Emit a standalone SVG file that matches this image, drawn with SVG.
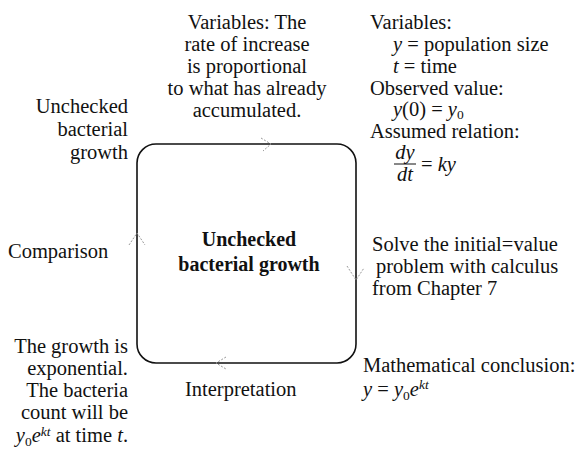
<svg xmlns="http://www.w3.org/2000/svg" width="588" height="451" viewBox="0 0 588 451">
<style>
text{font-family:"Liberation Serif","Times New Roman",serif;font-size:20.5px;fill:#111}
.b{font-weight:bold;font-size:20px}
.i{font-style:italic}
.m{text-anchor:middle}
.e{text-anchor:end}
.sub{font-size:13.5px}
.arr{fill:none;stroke:#999;stroke-width:1;stroke-dasharray:2 1.5}
</style>
<rect width="588" height="451" fill="#fff"/>
<g id="connectors">
<rect x="137" y="144" width="219" height="219" rx="19" fill="none" stroke="#111" stroke-width="1.6"/>
<path class="arr" d="M261 138 L271 144 L263 151"/>
<path class="arr" d="M347 266 L356 280 L364 268"/>
<path class="arr" d="M226 357 L216 363 L226 369"/>
<path class="arr" d="M129 245 L137 233 L145 245"/>
</g>
<g id="center">
<text class="b m" x="249" y="246">Unchecked</text>
<text class="b m" x="249" y="271">bacterial growth</text>
</g>
<g id="top-label">
<text class="m" x="247" y="29">Variables: The</text>
<text class="m" x="247" y="51">rate of increase</text>
<text class="m" x="247" y="73">is proportional</text>
<text class="m" x="247" y="95">to what has already</text>
<text class="m" x="247" y="117">accumulated.</text>
</g>
<g id="left-label">
<text class="e" x="128" y="113">Unchecked</text>
<text class="e" x="128" y="136">bacterial</text>
<text class="e" x="128" y="159">growth</text>
</g>
<g id="comparison">
<text x="8" y="258">Comparison</text>
</g>
<g id="right-top">
<text x="370" y="29">Variables:</text>
<text x="393" y="51"><tspan class="i">y</tspan> = population size</text>
<text x="393" y="73"><tspan class="i">t</tspan> = time</text>
<text x="370" y="95">Observed value:</text>
<text x="393" y="116"><tspan class="i">y</tspan>(0) = <tspan class="i">y</tspan><tspan class="sub" dy="3">0</tspan></text>
<text x="370" y="138">Assumed relation:</text>
<text class="i m" x="405" y="159">dy</text>
<line x1="394" y1="164" x2="416" y2="164" stroke="#111" stroke-width="1"/>
<text class="i m" x="405" y="181">dt</text>
<text x="421" y="171">= <tspan class="i">ky</tspan></text>
</g>
<g id="solve">
<text x="372" y="251">Solve the initial=value</text>
<text x="376" y="273">problem with calculus</text>
<text x="372" y="295">from Chapter 7</text>
</g>
<g id="conclusion">
<text x="363" y="372">Mathematical conclusion:</text>
<text x="363" y="396"><tspan class="i">y</tspan> = <tspan class="i">y</tspan><tspan class="sub" dy="4">0</tspan><tspan class="i" dy="-4">e</tspan><tspan class="i sub" dy="-7">kt</tspan></text>
</g>
<g id="interpretation">
<text x="185" y="396">Interpretation</text>
</g>
<g id="bottom-left">
<text class="e" x="128" y="353">The growth is</text>
<text class="e" x="128" y="375">exponential.</text>
<text class="e" x="128" y="397">The bacteria</text>
<text class="e" x="128" y="419">count will be</text>
<text class="e" x="128" y="442"><tspan class="i">y</tspan><tspan class="sub" dy="4">0</tspan><tspan class="i" dy="-4">e</tspan><tspan class="i sub" dy="-6">kt</tspan><tspan dy="6"> at time </tspan><tspan class="i">t</tspan>.</text>
</g>
</svg>
